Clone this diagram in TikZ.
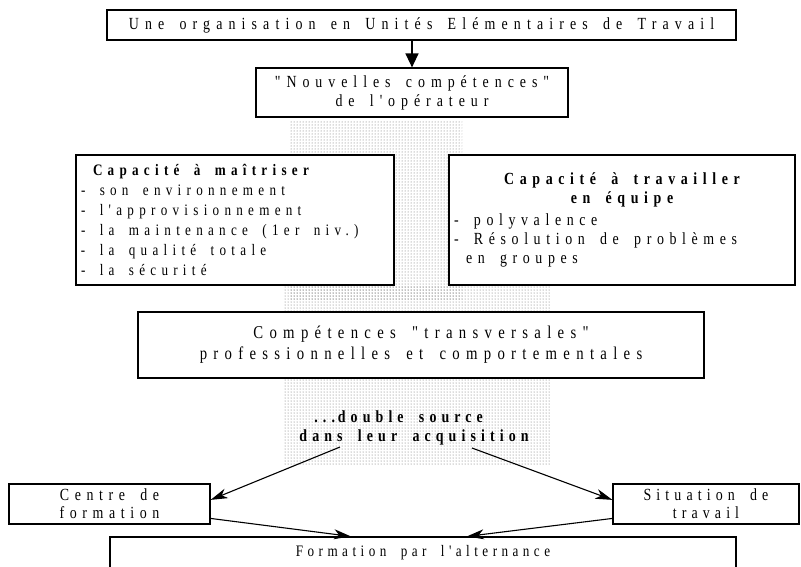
\documentclass[tikz,border=0pt]{standalone}
\usepackage{fontspec}
\newfontfamily\rf{Liberation Serif}[FakeStretch=0.82]
\usetikzlibrary{arrows.meta,calc,patterns}
\newcommand{\fs}[3]{\rf\fontsize{#1}{#2}\selectfont\addfontfeature{LetterSpace=#3}\spaceskip=0.9em plus 1pt\relax}
\newcommand{\ws}{\spaceskip=0.9em plus 1pt\relax}
\begin{document}
\begin{tikzpicture}[x=1pt,y=-1pt,
  box/.style={draw,line width=1.2pt,fill=white,inner xsep=5pt,inner ysep=0pt,align=center},
  arr/.style={line width=1.1pt,-{Stealth[length=17pt,width=10pt,inset=5pt]}},
  darr/.style={line width=1.3pt,-{Triangle[length=14pt,width=13pt]}},
  stip/.style={pattern=dots,pattern color=black!60}]
\useasboundingbox (0,0) rectangle (801,566);
\fill[stip] (290,120) rectangle (462,300);
\fill[stip] (283,285) rectangle (550,465);

\node[box,minimum width=629pt,minimum height=30pt,font={\fs{17}{19}{36}}] (top) at (421.5,25)
  {Une organisation en Unités Elémentaires de Travail};
\node[box,minimum width=312pt,minimum height=49pt,font={\fs{17}{19}{35}}] (nc) at (412,92.5)
  {"Nouvelles compétences"\\de l'opérateur};
\node[box,minimum width=318pt,minimum height=130pt,text width=308pt,align=left,font={\fs{16}{20}{33}}] (lb) at (235,220)
  {\ws\hspace*{12pt}\textbf{Capacité à maîtriser}\\- son environnement\\- l'approvisionnement\\- la maintenance (1er niv.)\\- la qualité totale\\- la sécurité};
\node[box,minimum width=346pt,minimum height=130pt,text width=336pt,align=left,font={\fs{17}{19}{33}}] (rb) at (622,220)
  {\ws\makebox[\linewidth]{\bfseries Capacité à travailler}\\
   \makebox[\linewidth]{\bfseries en équipe}\\[3pt]
   - polyvalence\\
   - Résolution de problèmes\\
   \hspace*{12pt}en groupes};
\node[box,minimum width=566pt,minimum height=66pt,font={\fs{18}{21}{35}}] (mid) at (421,345)
  {Compétences "transversales"\\professionnelles et comportementales};
\node[align=left,inner sep=1pt,font={\fs{17}{19}{30}\bfseries}] (ds) at (414,428)
  {\ws\hspace*{15pt}...\,double source\\dans leur acquisition};
\node[box,minimum width=201pt,minimum height=40pt,font={\fs{17}{18}{33}}] (cf) at (109.5,504)
  {Centre de\\formation};
\node[box,minimum width=186pt,minimum height=40pt,font={\fs{17}{18}{30}}] (st) at (706,504)
  {Situation de\\travail};
\node[box,minimum width=626pt,minimum height=32pt,font={\fs{16}{18}{28}}] (fa) at (423,553)
  {Formation par l'alternance};

\coordinate (dsL) at (340,447);
\coordinate (dsR) at (472,448);
\draw[darr] (nc.north |- top.south) -- (nc.north);
\draw[arr] (dsL) -- ($(cf.north east)!0.4!(cf.south east)$);
\draw[arr] (dsR) -- ($(st.north west)!0.4!(st.south west)$);
\draw[arr] ($(cf.north east)!0.85!(cf.south east)$) -- ($(fa.north west)!0.385!(fa.north east)$);
\draw[arr] ($(st.north west)!0.85!(st.south west)$) -- ($(fa.north west)!0.57!(fa.north east)$);
\end{tikzpicture}
\end{document}
